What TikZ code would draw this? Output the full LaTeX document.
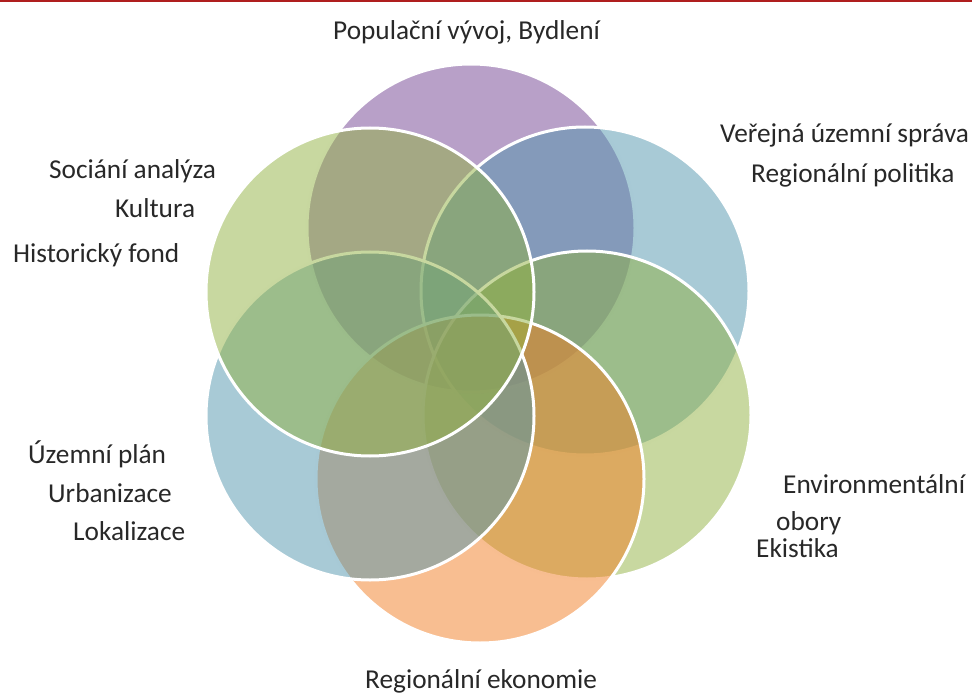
\documentclass[tikz,border=0pt]{standalone}
\usepackage{fontspec}
\setmainfont{Carlito}
\definecolor{popviolet}{RGB}{113,65,145}
\definecolor{spravablue}{RGB}{81,149,173}
\definecolor{envgreen}{RGB}{145,177,65}
\definecolor{ekonorange}{RGB}{241,125,35}
\definecolor{planblue}{RGB}{81,149,173}
\definecolor{socgreen}{RGB}{145,177,65}
\definecolor{textgray}{RGB}{40,40,40}
\definecolor{topred}{RGB}{175,30,30}
\tikzset{petal/.style={circle, minimum size=328pt, inner sep=0pt, draw=white,
  line width=3pt, fill opacity=0.5},
  topic/.style={anchor=base west, inner sep=0pt, text=textgray,
  font=\fontsize{27.3}{32}\selectfont}}

\begin{document}
\begin{tikzpicture}[x=1pt,y=-1pt]
        \useasboundingbox (0,0) rectangle (972,695);
        \draw[line width=2.5pt, topred] (0,1.25) -- (972,1.25);

        % circles, drawn from the bottom layer up
        \node[petal, fill=popviolet] (pop) at (471, 228) {};
        \node[petal, fill=spravablue] (sprava) at (585, 291) {};
        \node[petal, fill=envgreen] (env) at (587, 415) {};
        \node[petal, fill=ekonorange] (ekon) at (480, 479) {};
        \node[petal, fill=planblue] (plan) at (370, 416) {};
        \node[petal, fill=socgreen] (soc) at (370, 292) {};

        % labels
        \node[topic] (poptext) at (333, 40) {Populační vývoj, Bydlení};
        \node[topic] (spr1) at (720, 143) {Veřejná územní správa};
        \node[topic] (spr2) at (751, 183) {Regionální politika};
        \node[topic] (soc1) at (49, 179) {Sociání analýza};
        \node[topic] (soc2) at (115, 218) {Kultura};
        \node[topic] (soc3) at (13, 262) {Historický fond};
        \node[topic] (plan1) at (28, 463) {Územní plán};
        \node[topic] (plan2) at (48, 502) {Urbanizace};
        \node[topic] (plan3) at (73, 540) {Lokalizace};
        \node[topic] (env1) at (783, 493) {Environmentální};
        \node[topic] (env2) at (776, 530) {obory};
        \node[topic] (env3) at (756, 557) {Ekistika};
        \node[topic] (ekontext) at (365, 688) {Regionální ekonomie};
    \end{tikzpicture}
\end{document}
